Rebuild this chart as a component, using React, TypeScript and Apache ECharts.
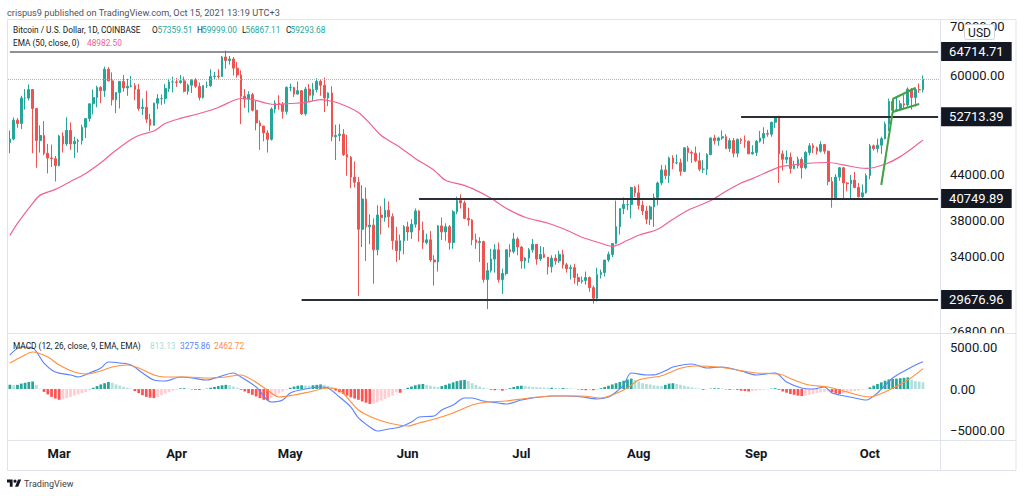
import React, { useEffect, useRef } from "react";
import * as echarts from "echarts";

// ---------- DATA ----------
const START_DATE = "2021-02-16";
const CATEGORY_COUNT = 246; // Feb 16 .. Oct 19 (last 4 days empty)
const MONTHS = ["Jan", "Feb", "Mar", "Apr", "May", "Jun", "Jul", "Aug", "Sep", "Oct", "Nov", "Dec"];

// [open, high, low, close]
const ohlcFeb = [
  [48600, 50500, 47000, 49150], [49150, 52600, 48950, 52150], [52150, 52500, 50900, 51600],
  [51600, 56300, 50700, 55900], [55900, 57500, 53900, 55900], [55900, 58350, 55500, 57400],
  [57400, 57500, 47000, 54100], [54100, 54200, 44900, 48900], [48900, 51300, 47100, 49700],
  [49700, 52000, 46700, 47000], [47000, 48400, 44100, 46300], [46300, 48300, 45000, 46200],
  [46200, 46600, 43000, 45200],
];
const ohlcMar = [
  [45200, 49800, 45100, 49600], [49600, 50200, 47100, 48400], [48400, 52600, 48100, 50500],
  [50500, 51800, 47500, 48400], [48400, 49500, 46300, 48800], [48800, 49200, 47100, 48900],
  [48900, 51400, 48300, 51000], [51000, 52400, 49300, 52400], [52400, 54900, 51900, 54900],
  [54900, 57400, 53100, 56000], [56000, 58100, 54300, 57800], [57800, 58000, 55000, 57200],
  [57200, 61700, 56100, 61200], [61200, 61600, 58900, 59000], [59000, 60600, 54600, 55600],
  [55600, 56900, 53300, 56900], [56900, 58900, 54100, 58900], [58900, 60100, 57000, 57700],
  [57700, 59400, 56300, 58000], [58000, 59900, 57800, 58100], [58100, 58600, 55500, 57400],
  [57400, 58400, 53700, 54100], [54100, 55800, 53000, 54300], [54300, 57200, 51700, 52300],
  [52300, 53200, 50400, 51300], [51300, 55100, 51300, 55000], [55000, 56600, 54000, 55800],
  [55800, 56500, 54700, 55800], [55800, 58400, 54900, 57600], [57600, 59400, 57000, 58800],
  [58800, 59800, 56900, 58800],
];
const ohlcApr = [
  [58800, 59500, 57900, 58700], [58700, 60100, 58500, 59000], [59000, 59800, 56900, 57100],
  [57100, 58500, 56500, 58200], [58200, 59300, 56800, 59100], [59100, 59500, 57700, 58000],
  [58000, 58700, 55500, 56000], [56000, 58200, 55800, 58100], [58100, 58900, 57700, 58100],
  [58100, 61200, 57900, 59800], [59800, 60700, 59300, 59900], [59900, 61200, 59400, 59800],
  [59800, 63800, 59800, 63600], [63600, 64900, 61300, 62900], [62900, 63800, 62100, 63200],
  [63200, 63600, 60000, 61400], [61400, 62600, 59600, 60100], [60100, 61000, 51500, 56200],
  [56200, 57500, 54200, 55700], [55700, 57100, 53400, 56500], [56500, 56800, 53600, 53800],
  [53800, 55400, 50500, 51700], [51700, 52100, 47500, 51200], [51200, 51200, 48800, 50100],
  [50100, 50500, 47100, 49100], [49100, 54300, 48900, 54000], [54000, 55500, 53300, 55000],
  [55000, 56400, 53900, 54800], [54800, 55200, 52400, 53600], [53600, 58000, 53100, 57800],
];
const ohlcMay = [
  [57800, 58500, 57100, 57800], [57800, 57900, 56100, 56600], [56600, 58900, 56500, 57200],
  [57200, 57300, 53000, 53200], [53200, 57900, 52900, 57500], [57500, 58400, 55300, 56400],
  [56400, 58600, 55400, 57400], [57400, 59500, 56900, 58900], [58900, 59300, 56300, 58200],
  [58200, 59600, 53500, 55900], [55900, 56900, 54500, 56800], [56800, 58000, 48800, 49500],
  [49500, 51400, 46000, 49700], [49700, 51500, 48800, 49900], [49900, 50700, 46600, 46800],
  [46800, 49800, 43800, 46400], [46400, 46600, 42100, 43600], [43600, 45800, 42200, 42900],
  [42900, 43600, 30000, 37000], [37000, 42500, 35000, 40700], [40700, 42200, 33500, 37300],
  [37300, 38800, 35300, 37500], [37500, 38300, 31200, 34700], [34700, 39900, 34100, 38700],
  [38700, 39800, 36400, 38400], [38400, 40800, 37900, 39300], [39300, 40400, 37200, 38500],
  [38500, 38900, 34700, 35700], [35700, 37300, 33400, 34600], [34600, 36400, 33600, 35700],
  [35700, 37500, 34200, 37300],
];
const ohlcJun = [
  [37300, 37900, 35700, 36700], [36700, 38200, 35900, 37600], [37600, 39500, 37200, 39200],
  [39200, 39300, 35600, 36900], [36900, 37900, 34800, 35500], [35500, 36500, 35300, 35800],
  [35800, 36800, 33400, 33600], [33600, 34100, 31000, 33400], [33400, 37500, 32400, 37400],
  [37400, 38400, 35800, 36700], [36700, 37700, 35700, 37300], [37300, 37500, 34700, 35500],
  [35500, 39300, 34800, 39100], [39100, 41000, 38800, 40500], [40500, 41300, 39500, 40200],
  [40200, 40500, 38200, 38300], [38300, 39600, 37400, 38100], [38100, 38200, 35200, 35800],
  [35800, 36500, 34800, 35500], [35500, 36100, 33400, 35600], [35600, 35700, 31300, 31600],
  [31600, 33300, 28800, 32500], [32500, 34800, 32300, 33700], [33700, 35300, 32300, 34700],
  [34700, 35500, 31300, 31600], [31600, 32700, 30200, 32200], [32200, 34700, 32000, 34700],
  [34700, 35300, 33900, 34500], [34500, 36600, 34300, 35900], [35900, 36100, 34100, 35000],
];
const ohlcJul = [
  [35000, 35100, 32700, 33500], [33500, 33900, 32700, 33800], [33800, 34900, 33300, 34700],
  [34700, 35900, 34400, 35300], [35300, 35300, 33100, 33700], [33700, 35100, 33500, 34200],
  [34200, 35000, 33800, 33900], [33900, 33900, 32100, 32900], [32900, 34100, 32300, 33800],
  [33800, 34200, 33100, 33500], [33500, 34600, 33300, 34200], [34200, 34700, 32700, 33100],
  [33100, 33300, 32300, 32700], [32700, 33100, 31600, 32800], [32800, 33200, 31200, 31800],
  [31800, 32200, 31000, 31400], [31400, 31900, 31200, 31500], [31500, 32400, 31100, 31800],
  [31800, 31900, 30400, 30800], [30800, 31000, 29300, 29800], [29800, 32800, 29500, 32100],
  [32100, 32600, 31700, 32300], [32300, 33600, 31900, 33600], [33600, 34500, 33400, 34200],
  [34200, 35400, 33900, 35400], [35400, 40500, 35300, 37300], [37300, 39500, 36400, 39500],
  [39500, 40900, 38800, 40000], [40000, 40600, 39300, 40000], [40000, 42300, 38300, 42200],
  [42200, 42400, 41000, 41500],
];
const ohlcAug = [
  [41500, 42600, 39400, 39900], [39900, 40500, 38700, 39200], [39200, 39800, 37600, 38200],
  [38200, 39900, 37500, 39700], [39700, 41400, 37300, 40900], [40900, 43000, 39900, 42800],
  [42800, 45300, 42500, 44600], [44600, 45300, 43300, 43800], [43800, 46500, 42800, 46300],
  [46300, 46700, 44700, 45600], [45600, 46800, 45400, 45600], [45600, 46200, 43800, 44400],
  [44400, 47900, 44300, 47800], [47800, 48100, 45800, 47100], [47100, 47400, 45600, 47000],
  [47000, 48000, 45700, 45900], [45900, 47100, 44400, 44700], [44700, 46000, 44200, 44700],
  [44700, 47000, 43900, 46800], [46800, 49400, 46700, 49300], [49300, 49800, 48300, 48900],
  [48900, 49500, 48100, 49300], [49300, 50500, 49000, 49500], [49500, 49900, 47600, 47700],
  [47700, 49300, 47200, 48900], [48900, 49300, 46400, 47000], [47000, 49200, 46400, 49100],
  [49100, 49300, 48400, 48900], [48900, 49700, 47800, 48800], [48800, 48900, 46900, 46900],
  [46900, 48200, 46800, 47100],
];
const ohlcSep = [
  [47100, 49000, 46600, 48800], [48800, 50400, 48600, 49300], [49300, 51000, 48400, 50000],
  [50000, 50600, 49500, 49900], [49900, 51900, 49500, 51800], [51800, 52800, 50900, 52700],
  [52700, 52900, 42800, 46900], [46900, 47400, 44500, 46100], [46100, 47400, 45500, 46400],
  [46400, 47100, 44100, 44800], [44800, 45900, 44700, 45200], [45200, 46500, 44800, 46100],
  [46100, 46400, 43400, 44900], [44900, 47300, 44700, 47100], [47100, 48500, 46700, 48100],
  [48100, 48500, 47000, 47800], [47800, 48000, 46800, 47300], [47300, 48800, 47100, 48300],
  [48300, 48400, 46900, 47300], [47300, 47400, 42500, 43000], [43000, 43600, 39600, 40700],
  [40700, 44000, 40600, 43600], [43600, 45000, 43100, 44900], [44900, 45000, 40700, 42800],
  [42800, 42900, 41700, 42700], [42700, 43900, 40800, 43200], [43200, 44300, 42100, 42200],
  [42200, 42800, 40900, 41000], [41000, 42600, 40800, 41500], [41500, 44100, 41400, 43800],
];
const ohlcOct = [
  [43800, 48400, 43300, 48100], [48100, 48300, 47400, 47700], [47700, 49200, 47100, 48200],
  [48200, 49500, 46900, 49200], [49200, 51900, 49100, 51500], [51500, 55800, 50400, 55300],
  [55300, 55400, 53400, 53800], [53800, 56100, 53600, 53900], [53900, 55500, 53700, 54900],
  [54900, 56500, 54100, 54700], [54700, 57800, 54400, 57500], [57500, 57700, 53900, 56000],
  [56000, 57800, 54400, 57400], [57400, 58500, 56800, 57360],
  [57359.51, 59999.0, 56867.11, 59293.68],
];

const emaPoints: [string, number][] = [
  ["02-16", 36300], ["02-18", 37700], ["02-22", 40150], ["02-24", 41200], ["02-28", 41950],
  ["03-04", 43000], ["03-08", 44100], ["03-12", 45600], ["03-15", 47000], ["03-19", 48700],
  ["03-22", 49700], ["03-26", 50400], ["03-29", 51600], ["04-02", 52430], ["04-07", 53250],
  ["04-12", 54270], ["04-16", 55470], ["04-18", 55820], ["04-21", 55640], ["04-25", 54950],
  ["04-27", 54780], ["05-01", 54950], ["05-05", 55130], ["05-09", 55640], ["05-11", 55470],
  ["05-14", 54950], ["05-19", 53430], ["05-22", 51610], ["05-25", 49700], ["05-30", 47870],
  ["06-03", 46240], ["06-08", 44530], ["06-11", 43160], ["06-15", 42620], ["06-18", 42080],
  ["06-23", 40790], ["06-27", 39530], ["07-02", 38430], ["07-08", 37710], ["07-13", 36890],
  ["07-17", 36090], ["07-22", 35420], ["07-25", 35080], ["07-29", 35750], ["08-01", 36320],
  ["08-06", 37010], ["08-10", 38190], ["08-14", 39280], ["08-20", 40500], ["08-24", 41700],
  ["08-28", 42800], ["08-31", 43400], ["09-03", 44100], ["09-07", 45000], ["09-10", 45250],
  ["09-14", 45500], ["09-20", 45650], ["09-24", 45300], ["09-30", 44800], ["10-05", 45400],
  ["10-09", 46500], ["10-15", 48982.5],
];

// MACD line (12, 26)
const macdPoints: [string, number][] = [
  ["02-16", 4100], ["02-19", 5060], ["02-22", 4940], ["02-25", 3130], ["02-28", 2050],
  ["03-04", 1690], ["03-06", 1450], ["03-09", 1930], ["03-12", 2530], ["03-14", 3250],
  ["03-17", 3130], ["03-20", 2890], ["03-23", 1930], ["03-26", 1080], ["03-29", 960],
  ["04-02", 1450], ["04-05", 1330], ["04-09", 1080], ["04-12", 1450], ["04-16", 1930],
  ["04-18", 1450], ["04-22", 240], ["04-26", -1570], ["04-29", -1330], ["05-01", -480],
  ["05-05", 0], ["05-09", 240], ["05-11", 120], ["05-14", -960], ["05-17", -2170],
  ["05-19", -3490], ["05-22", -4580], ["05-24", -5060], ["05-27", -4820], ["05-30", -4580],
  ["06-02", -3980], ["06-04", -3370], ["06-08", -3250], ["06-10", -2530], ["06-13", -1930],
  ["06-16", -1080], ["06-18", -1080], ["06-21", -1450], ["06-25", -1690], ["06-27", -1810],
  ["07-01", -1330], ["07-04", -1080], ["07-09", -840], ["07-13", -840], ["07-17", -960],
  ["07-21", -1200], ["07-24", -960], ["07-26", -360], ["07-28", 480], ["07-30", 1930],
  ["08-03", 1690], ["08-05", 1700], ["08-08", 2200], ["08-10", 2650], ["08-15", 3010],
  ["08-19", 2530], ["08-23", 2650], ["08-28", 2170], ["09-01", 1690], ["09-06", 1930],
  ["09-09", 840], ["09-13", 120], ["09-16", 0], ["09-19", 240], ["09-21", -480],
  ["09-23", -720], ["09-27", -1080], ["09-30", -1330], ["10-03", -480], ["10-07", 1330],
  ["10-12", 2650], ["10-15", 3275.86],
];

// Signal line (9)
const signalPoints: [string, number][] = [
  ["02-16", 3130], ["02-19", 3860], ["02-22", 4460], ["02-26", 3860], ["03-01", 2890],
  ["03-05", 2050], ["03-08", 1810], ["03-12", 2170], ["03-15", 2650], ["03-19", 2890],
  ["03-22", 2530], ["03-26", 1690], ["03-29", 1450], ["04-04", 1450], ["04-09", 1330],
  ["04-14", 1450], ["04-18", 1690], ["04-21", 1080], ["04-25", -120], ["04-28", -960],
  ["05-02", -720], ["05-06", -360], ["05-11", 120], ["05-14", -120], ["05-19", -2530],
  ["05-23", -3490], ["05-27", -4100], ["06-01", -4460], ["06-04", -4100], ["06-09", -3490],
  ["06-13", -2890], ["06-18", -1930], ["06-22", -1570], ["06-27", -1450], ["07-03", -1080],
  ["07-09", -840], ["07-17", -840], ["07-22", -1080], ["07-25", -720], ["07-29", 120],
  ["08-01", 1080], ["08-07", 1600], ["08-12", 2500], ["08-16", 2770], ["08-22", 2650],
  ["08-27", 2290], ["09-01", 1930], ["09-07", 1810], ["09-11", 1080], ["09-15", 480],
  ["09-20", 240], ["09-25", -360], ["10-01", -960], ["10-05", -360], ["10-11", 1080],
  ["10-15", 2462.72],
];

// MACD histogram, one value per day (Feb 16 .. Oct 15)
const histogram = [
  500, 450, 500, 650, 750, 850, 900, 500, 50, -350,
  -650, -950, -1150, -1300, -1250, -1100, -950, -800, -650, -500,
  -350, -150, 150, 350, 550, 700, 850, 750, 550, 400,
  250, 150, 50, -250, -500, -750, -950, -1050, -1100, -950,
  -750, -550, -350, -200, -100, 80, 100, 50, -50, -100,
  -120, -50, 50, 150, 250, 350, 450, 500, 450, 300,
  150, -100, -300, -500, -700, -900, -1100, -1300, -1350, -1100,
  -800, -550, -300, -100, 150, 300, 400, 450, 420, 400,
  450, 500, 550, 500, 400, 200, -200, -400, -600, -800,
  -1000, -1150, -1300, -1500, -1650, -1800, -1750, -1600, -1400, -1200,
  -1000, -800, -400, -450, -100, 150, 300, 450, 550, 600,
  500, 400, 300, 250, 350, 500, 650, 800, 950, 1050,
  1100, 950, 700, 500, 300, 150, 50, -100, -150, -120,
  -200, -150, 100, 250, 350, 400, 350, 300, 250, 220,
  200, 180, 150, 150, 120, 100, 120, 100, 80, 30,
  -50, -100, -150, -100, -150, -100, 100, 250, 400, 550,
  700, 850, 1000, 1150, 1250, 1100, 900, 700, 600, 550,
  450, 400, 350, 500, 650, 700, 600, 500, 400, 300,
  200, 100, 50, -100, -50, 50, 80, 80, 60, -50,
  -100, -80, -100, -200, -250, -300, -250, -200, -150, -100,
  -50, 50, 100, -100, -300, -450, -600, -700, -800, -850,
  -800, -700, -600, -500, -400, -350, -300, -400, -550, -600,
  -500, -400, -300, -250, -200, -100, -50, 200, 400, 600,
  800, 1000, 1150, 1200, 1250, 1300, 1350, 1400, 1100, 950,
  900, 813.13,
];

// horizontal levels drawn on the chart
const levelValues = [64714.71, 52713.39, 40749.89, 29676.96];
const levelStarts = ["02-16", "08-28", "06-04", "05-04"];
const lastClose = 59293.68;

// bull-flag drawing
const flagPole: [string, number][] = [["10-04", 42530], ["10-07", 53500]];
const flagUpper: [string, number][] = [["10-07", 55730], ["10-13", 57690]];
const flagLower: [string, number][] = [["10-07", 53500], ["10-14", 54860]];
const flagSide: [string, number][] = [["10-07", 55730], ["10-07", 53500]];

// axis ticks
const priceTicks = [26800, 34000, 38000, 44000, 60000, 70000];
const macdTicks = [-5000, 0, 5000];

// ---------- BUILD ----------
const TV_LOGO = "M14 22H7V11H0V4h14v18zM28 22h-8l7.5-18h8L28 22zM24 8a4 4 0 1 1 -8 0a4 4 0 1 1 8 0z";
echarts.graphic.registerShape("tvlogo", echarts.graphic.extendPath(TV_LOGO, {}) as any);

function buildCategories(): string[] {
  const out: string[] = [];
  const [y, m, d] = START_DATE.split("-").map(Number);
  for (let i = 0; i < CATEGORY_COUNT; i++) {
    const dt = new Date(Date.UTC(y, m - 1, d + i));
    const mm = String(dt.getUTCMonth() + 1).padStart(2, "0");
    const dd = String(dt.getUTCDate()).padStart(2, "0");
    out.push(`${dt.getUTCFullYear()}-${mm}-${dd}`);
  }
  return out;
}
const full = (md: string) => `2021-${md}`;
const toPairs = (pts: [string, number][]) => pts.map(([d, v]) => [full(d), v]);

const FONT = "Roboto";
const TEXT = "#131722";
const UP = "#26a69a";
const DOWN = "#ef5350";

function buildOption() {
  const categories = buildCategories();
  const ohlc = [...ohlcFeb, ...ohlcMar, ...ohlcApr, ...ohlcMay, ...ohlcJun, ...ohlcJul, ...ohlcAug, ...ohlcSep, ...ohlcOct];
  const candleData = ohlc.map(([o, h, l, c]) => [o, c, l, h]);
  const lastCat = categories[categories.length - 1];

  const boxLabel = (txt: string) => ({
    show: true,
    position: "end",
    formatter: txt,
    color: "#ffffff",
    backgroundColor: TEXT,
    padding: [3, 8, 2, 8],
    fontSize: 13,
    lineHeight: 14,
    fontFamily: FONT,
    distance: 3,
  });

  const levelLines = levelValues.map((v, i) => [
    {
      coord: [full(levelStarts[i]), v],
      lineStyle: { color: i === 0 ? "#6a6d78" : "#2a2e39", width: i === 0 ? 1.5 : 2, type: "solid" },
      label: boxLabel(v.toFixed(2)),
    },
    { coord: [lastCat, v] },
  ]);
  const green = { color: "#43a047", width: 2, type: "solid" };
  const flagLines = [flagPole, flagUpper, flagLower, flagSide].map((seg) => [
    { coord: [full(seg[0][0]), seg[0][1]], lineStyle: green, label: { show: false } },
    { coord: [full(seg[1][0]), seg[1][1]] },
  ]);

  const histColor = (p: any) => {
    const i = p.dataIndex;
    const v = histogram[i];
    const prev = i > 0 ? histogram[i - 1] : v;
    if (v >= 0) return v >= prev ? "#26a69a" : "#b2dfdb";
    return v < prev ? "#ff5252" : "#ffcdd2";
  };

  const legendText = (x: number, y: number, text: string, fill: string, size = 8.3) => ({
    type: "text",
    x,
    y,
    z: 100,
    style: { text, fill, fontSize: size, fontFamily: FONT, verticalAlign: "middle" },
  });

  return {
    animation: false,
    backgroundColor: "#ffffff",
    textStyle: { fontFamily: FONT },
    grid: [
      { left: 8, right: 84, top: 20, height: 313.5, outerBoundsMode: "none", containLabel: false },
      { left: 8, right: 84, top: 334, height: 106, outerBoundsMode: "none", containLabel: false },
    ],
    xAxis: [
      {
        type: "category",
        gridIndex: 0,
        data: categories,
        boundaryGap: true,
        axisLine: { show: false },
        axisTick: { show: false },
        axisLabel: { show: false },
        splitLine: { show: false },
      },
      {
        type: "category",
        gridIndex: 1,
        data: categories,
        boundaryGap: true,
        axisLine: { show: false },
        axisTick: { show: false },
        splitLine: { show: false },
        axisLabel: {
          interval: (_i: number, v: string) => v.slice(8) === "01",
          formatter: (v: string) => MONTHS[Number(v.slice(5, 7)) - 1],
          color: TEXT,
          fontSize: 13,
          fontWeight: "bold",
          fontFamily: FONT,
          margin: 7,
        },
      },
    ],
    yAxis: [
      {
        type: "log",
        logBase: 10,
        gridIndex: 0,
        position: "right",
        min: 26670,
        max: 71440,
        axisLine: { show: false },
        axisTick: { show: false },
        splitLine: { show: false },
        axisLabel: {
          customValues: priceTicks,
          formatter: (v: number) => v.toFixed(2),
          color: TEXT,
          fontSize: 13,
          fontFamily: FONT,
          margin: 10,
        },
      },
      {
        type: "value",
        gridIndex: 1,
        position: "right",
        min: -6145,
        max: 6627,
        axisLine: { show: false },
        axisTick: { show: false },
        splitLine: { show: false },
        axisLabel: {
          customValues: macdTicks,
          formatter: (v: number) => (v < 0 ? "\u2212" : "") + Math.abs(v).toFixed(2),
          color: TEXT,
          fontSize: 13,
          fontFamily: FONT,
          margin: 10,
        },
      },
    ],
    series: [
      {
        type: "candlestick",
        xAxisIndex: 0,
        yAxisIndex: 0,
        data: candleData,
        barWidth: "58%",
        itemStyle: { color: UP, color0: DOWN, borderColor: UP, borderColor0: DOWN, borderWidth: 1 },
        markLine: {
          silent: true,
          symbol: ["none", "none"],
          animation: false,
          label: { show: false },
          emphasis: { disabled: true },
          data: [
            {
              yAxis: lastClose,
              lineStyle: { color: "#7cc7bf", type: "dotted", width: 1, opacity: 0.9 },
              label: { show: false },
            },
            ...levelLines,
            ...flagLines,
          ],
        },
      },
      {
        type: "line",
        name: "EMA",
        xAxisIndex: 0,
        yAxisIndex: 0,
        data: toPairs(emaPoints),
        showSymbol: false,
        smooth: 0.3,
        lineStyle: { color: "#f06292", width: 1.2 },
        silent: true,
      },
      {
        type: "bar",
        xAxisIndex: 1,
        yAxisIndex: 1,
        data: histogram,
        barWidth: "72%",
        itemStyle: { color: histColor },
        silent: true,
      },
      {
        type: "line",
        name: "MACD",
        xAxisIndex: 1,
        yAxisIndex: 1,
        data: toPairs(macdPoints),
        showSymbol: false,
        smooth: 0.3,
        lineStyle: { color: "#5b82ff", width: 1.1 },
        silent: true,
      },
      {
        type: "line",
        name: "Signal",
        xAxisIndex: 1,
        yAxisIndex: 1,
        data: toPairs(signalPoints),
        showSymbol: false,
        smooth: 0.3,
        lineStyle: { color: "#ff8f3f", width: 1.1 },
        silent: true,
      },
    ],
    graphic: [
      // header
      legendText(7, 12, "crispus9 published on TradingView.com, Oct 15, 2021 13:19 UTC+3", "#50535e", 9.2),
      // frame & separators
      { type: "rect", z: 90, shape: { x: 941, y: 334, width: 74, height: 7 }, style: { fill: "#ffffff" } },
      { type: "rect", z: 95, shape: { x: 7.5, y: 19.5, width: 1008.5, height: 451 }, style: { fill: "none", stroke: "#e0e3eb", lineWidth: 1 } },
      { type: "line", z: 95, shape: { x1: 940.5, y1: 19.5, x2: 940.5, y2: 470.5 }, style: { stroke: "#e0e3eb", lineWidth: 1 } },
      { type: "line", z: 95, shape: { x1: 7.5, y1: 333.5, x2: 1016, y2: 333.5 }, style: { stroke: "#e0e3eb", lineWidth: 1 } },
      { type: "line", z: 95, shape: { x1: 7.5, y1: 440.5, x2: 1016, y2: 440.5 }, style: { stroke: "#e0e3eb", lineWidth: 1 } },
      // USD box
      { type: "rect", z: 100, shape: { x: 964.5, y: 24.5, width: 30, height: 15, r: 2 }, style: { fill: "#ffffff", stroke: "#d1d4dc", lineWidth: 1 } },
      { type: "text", z: 101, x: 979.5, y: 32.5, style: { text: "USD", fill: TEXT, fontSize: 12, fontFamily: FONT, align: "center", verticalAlign: "middle" } },
      // main legend
      legendText(13, 30, "Bitcoin / U.S. Dollar, 1D, COINBASE", TEXT),
      legendText(152, 30, "O", TEXT),
      legendText(157.5, 30, "57359.51", UP),
      legendText(197, 30, "H", TEXT),
      legendText(202, 30, "59999.00", UP),
      legendText(242, 30, "L", TEXT),
      legendText(245.5, 30, "56867.11", UP),
      legendText(286, 30, "C", TEXT),
      legendText(290.5, 30, "59293.68", UP),
      legendText(13, 43, "EMA (50, close, 0)", TEXT),
      legendText(87, 43, "48982.50", "#f06292"),
      // MACD legend
      legendText(13, 346, "MACD (12, 26, close, 9, EMA, EMA)", TEXT),
      legendText(150, 346, "813.13", "#a8dcd6"),
      legendText(180, 346, "3275.86", "#5b82ff"),
      legendText(214, 346, "2462.72", "#ff8f3f"),
      // TradingView footer
      { type: "tvlogo", z: 100, x: 7, y: 478, scaleX: 0.4, scaleY: 0.4, style: { fill: TEXT } },
      legendText(24, 484, "TradingView", "#3b3e48", 9),
    ],
  };
}

export default function App() {
  const ref = useRef<HTMLDivElement>(null);
  useEffect(() => {
    if (!ref.current) return;
    const chart = echarts.init(ref.current, null, { renderer: "svg" });
    chart.setOption(buildOption() as any);
    return () => chart.dispose();
  }, []);
  return (
    <div
      ref={ref}
      style={{ position: "fixed", left: 0, top: 0, width: 1024, height: 496, background: "#ffffff" }}
    />
  );
}
